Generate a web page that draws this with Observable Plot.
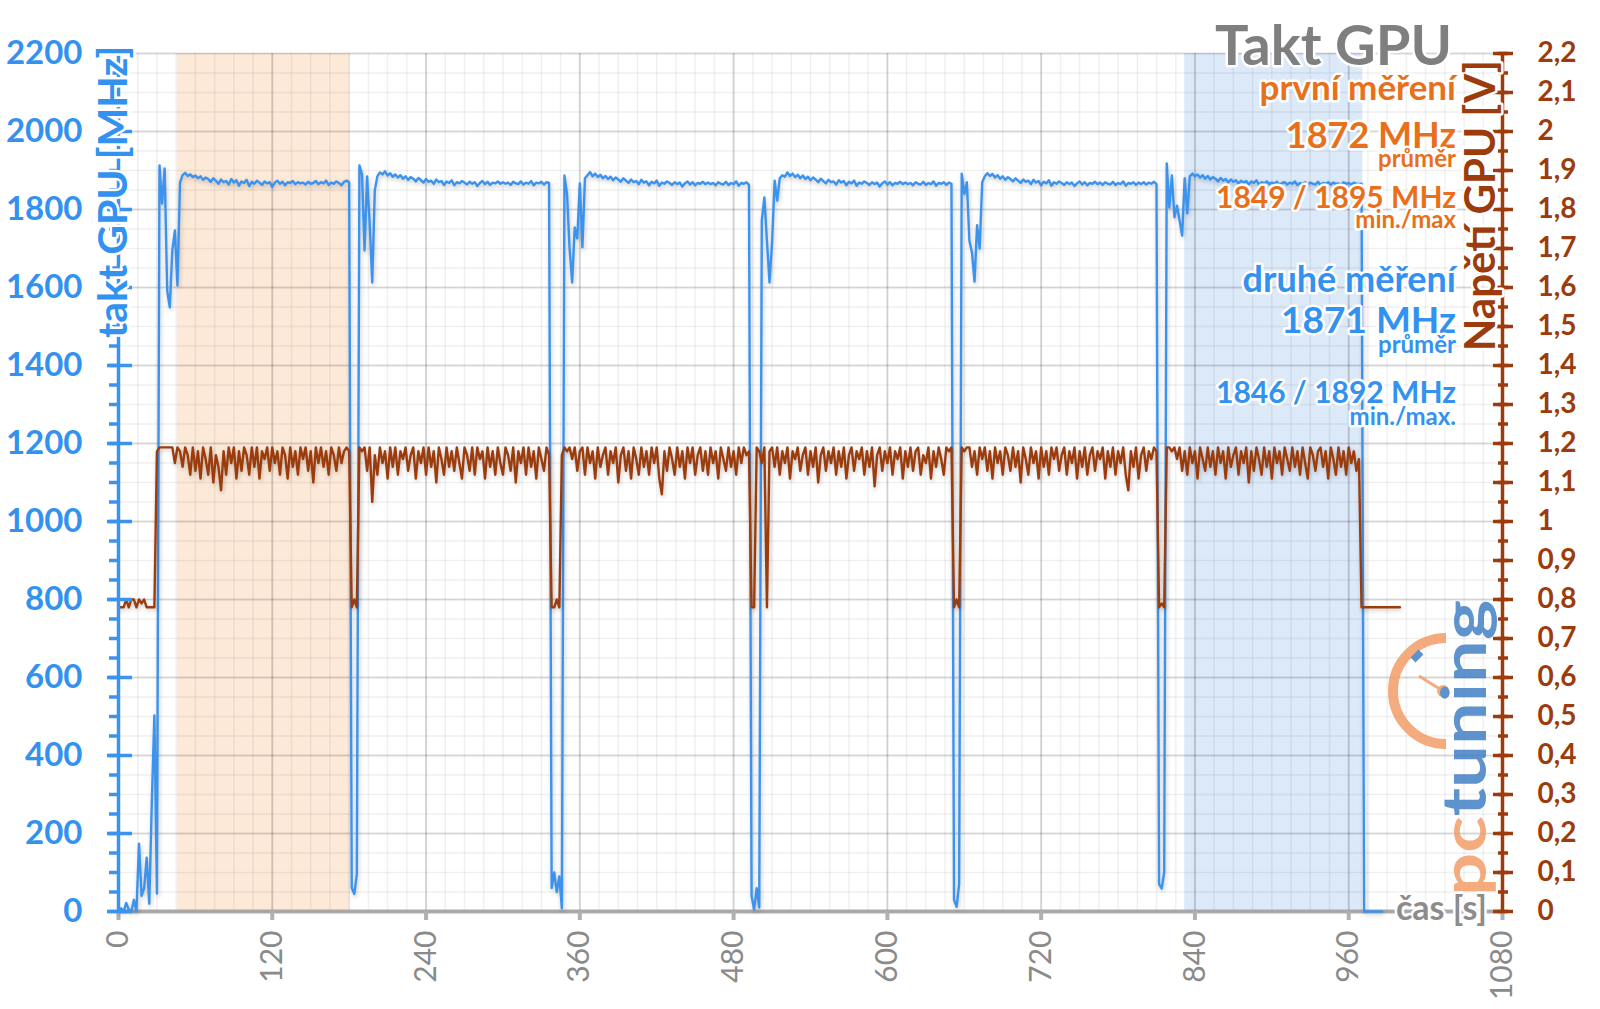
<!DOCTYPE html>
<html><head><meta charset="utf-8">
<script src="https://cdn.jsdelivr.net/npm/d3@7"></script>
<script src="https://cdn.jsdelivr.net/npm/@observablehq/plot@0.6"></script>
<style>
body{margin:0;background:#fff}
#wrap{position:relative;width:1600px;height:1009px;overflow:hidden}
#wrap > svg{position:absolute;left:0;top:0}
</style>
</head><body><div id="wrap"></div>
<script>
// ---- data ----
const sampleStep = 2; // seconds between samples
const clockMHz = [
0,8,0,22,5,0,30,0,174,40,
60,138,20,280,503,46,1913,1815,1905,1592,
1549,1695,1746,1605,1869,1888,1894,1886,1890,1883,
1887,1880,1885,1876,1882,1878,1871,1880,1874,1866,
1877,1870,1873,1864,1878,1869,1875,1861,1872,1868,
1876,1860,1871,1866,1874,1869,1863,1872,1867,1870,
1858,1869,1874,1866,1871,1862,1870,1868,1873,1865,
1870,1867,1869,1864,1871,1866,1868,1873,1865,1870,
1867,1874,1863,1869,1866,1872,1868,1862,1871,1874,
1870,60,45,95,1913,1890,1695,1885,1764,1613,
1849,1885,1895,1890,1898,1887,1893,1884,1890,1882,
1888,1879,1885,1876,1883,1879,1872,1881,1875,1869,
1878,1871,1874,1866,1877,1870,1873,1863,1872,1868,
1875,1862,1870,1867,1873,1869,1864,1871,1866,1870,
1860,1868,1873,1865,1871,1863,1869,1867,1872,1866,
1870,1866,1869,1863,1871,1867,1865,1872,1864,1869,
1866,1873,1862,1869,1867,1871,1864,1870,1868,60,
100,50,90,8,1887,1840,1700,1613,1754,1726,
1867,1703,1880,1888,1896,1885,1892,1883,1889,1880,
1886,1878,1884,1875,1882,1877,1871,1880,1874,1868,
1877,1870,1873,1865,1876,1869,1872,1862,1871,1867,
1874,1861,1869,1866,1872,1868,1863,1870,1865,1869,
1859,1867,1872,1864,1870,1862,1868,1866,1871,1865,
1869,1865,1868,1862,1870,1866,1864,1871,1863,1868,
1865,1872,1861,1868,1866,1870,1863,40,5,60,
10,1772,1831,1720,1613,1713,1874,1823,1880,1888,
1884,1895,1886,1892,1883,1889,1880,1887,1878,1884,
1875,1882,1877,1870,1879,1873,1867,1876,1870,1872,
1864,1875,1869,1873,1862,1871,1867,1874,1861,1869,
1866,1872,1868,1863,1870,1865,1869,1859,1867,1872,
1864,1870,1862,1868,1866,1871,1865,1869,1865,1868,
1862,1870,1866,1864,1871,1863,1868,1865,1872,1861,
1868,1866,1870,1863,1869,1866,30,12,70,1892,
1840,1870,1720,1690,1615,1760,1700,1870,1885,1893,
1886,1891,1882,1888,1879,1885,1876,1883,1878,1872,
1880,1874,1868,1877,1871,1874,1865,1876,1869,1873,
1862,1871,1867,1875,1861,1870,1866,1872,1868,1863,
1870,1865,1869,1860,1867,1872,1864,1870,1862,1868,
1866,1871,1865,1869,1863,1870,1866,1864,1871,1863,
1868,1865,1872,1861,1868,1866,1870,1863,1869,1865,
1870,1864,1869,1866,1871,1865,70,59,100,1918,
1805,1887,1780,1810,1772,1733,1880,1790,1885,1892,
1885,1890,1882,1888,1879,1886,1877,1883,1879,1872,
1881,1874,1878,1869,1877,1871,1875,1866,1874,1869,
1873,1864,1872,1868,1875,1863,1870,1867,1872,1865,
1869,1866,1871,1862,1868,1870,1864,1869,1866,1872,
1863,1868,1865,1870,1862,1869,1866,1864,1871,1863,
1868,1866,1870,1864,1869,1865,1867,1863,1870,1866,
1868,1864,1869,1866,1865,1866,0,0,0,0,
0,0,0,0
];
const voltageV = [
.78,.78,.78,.80,.78,.80,.80,.78,.80,.79,
.80,.78,.78,.78,.78,1.18,1.19,1.19,1.19,1.19,
1.19,1.19,1.15,1.19,1.18,1.14,1.19,1.17,1.12,1.19,
1.13,1.18,1.11,1.19,1.16,1.12,1.19,1.10,1.17,1.14,
1.08,1.18,1.12,1.19,1.15,1.19,1.11,1.18,1.13,1.19,
1.17,1.12,1.19,1.14,1.19,1.11,1.18,1.16,1.19,1.13,
1.19,1.15,1.18,1.12,1.19,1.17,1.11,1.19,1.14,1.18,
1.12,1.19,1.16,1.19,1.13,1.18,1.10,1.19,1.15,1.19,
1.14,1.18,1.12,1.19,1.17,1.13,1.19,1.15,1.18,1.19,
1.18,.78,.80,.78,1.19,1.18,1.19,1.13,1.19,1.05,
1.17,1.12,1.19,1.15,1.18,1.11,1.19,1.14,1.19,1.12,
1.18,1.16,1.19,1.13,1.17,1.19,1.11,1.18,1.15,1.19,
1.12,1.19,1.14,1.18,1.10,1.19,1.16,1.12,1.19,1.14,
1.18,1.13,1.19,1.15,1.11,1.19,1.17,1.13,1.19,1.12,
1.19,1.16,1.18,1.11,1.19,1.14,1.18,1.12,1.19,1.15,
1.12,1.19,1.17,1.13,1.19,1.10,1.18,1.15,1.19,1.12,
1.19,1.14,1.18,1.11,1.19,1.16,1.13,1.19,1.17,.78,
.78,.80,.78,1.17,1.19,1.18,1.19,1.16,1.19,1.13,
1.18,1.19,1.12,1.19,1.15,1.18,1.11,1.19,1.14,1.17,
1.19,1.12,1.18,1.15,1.19,1.10,1.17,1.19,1.13,1.18,
1.11,1.19,1.16,1.12,1.19,1.14,1.18,1.12,1.19,1.15,
1.19,1.11,1.07,1.18,1.13,1.19,1.16,1.12,1.19,1.14,
1.18,1.11,1.19,1.15,1.19,1.12,1.17,1.19,1.13,1.18,
1.12,1.19,1.15,1.18,1.11,1.19,1.16,1.13,1.19,1.14,
1.18,1.12,1.19,1.15,1.19,1.17,1.18,.78,.78,1.19,
1.18,1.15,1.19,.78,1.18,1.19,1.14,1.19,1.12,1.18,
1.15,1.19,1.11,1.18,1.16,1.19,1.13,1.17,1.19,1.12,
1.18,1.14,1.19,1.10,1.17,1.19,1.13,1.18,1.15,1.19,
1.12,1.18,1.14,1.19,1.11,1.17,1.19,1.13,1.18,1.16,
1.19,1.12,1.18,1.14,1.19,1.09,1.17,1.19,1.13,1.18,
1.15,1.19,1.12,1.18,1.16,1.19,1.11,1.18,1.14,1.19,
1.13,1.18,1.19,1.12,1.17,1.15,1.19,1.11,1.18,1.14,
1.19,1.16,1.12,1.19,1.18,1.19,.78,.80,.78,1.19,
1.18,1.19,1.19,1.14,1.18,1.12,1.19,1.16,1.19,1.13,
1.18,1.11,1.19,1.15,1.18,1.12,1.19,1.17,1.13,1.19,
1.14,1.18,1.10,1.19,1.16,1.12,1.19,1.15,1.18,1.11,
1.19,1.14,1.18,1.12,1.19,1.16,1.19,1.13,1.17,1.19,
1.12,1.18,1.15,1.19,1.11,1.18,1.14,1.19,1.12,1.17,
1.19,1.13,1.18,1.16,1.19,1.11,1.18,1.14,1.19,1.12,
1.18,1.15,1.19,1.12,1.08,1.18,1.14,1.19,1.11,1.17,
1.19,1.13,1.18,1.16,1.19,1.18,.78,.79,.78,1.19,
1.19,1.18,1.19,1.16,1.19,1.13,1.18,1.12,1.19,1.15,
1.18,1.11,1.19,1.16,1.13,1.19,1.14,1.18,1.12,1.19,
1.15,1.18,1.11,1.19,1.14,1.17,1.19,1.12,1.18,1.15,
1.19,1.10,1.18,1.13,1.19,1.16,1.12,1.19,1.14,1.18,
1.11,1.19,1.15,1.18,1.12,1.19,1.16,1.13,1.19,1.14,
1.18,1.12,1.19,1.15,1.11,1.19,1.17,1.13,1.18,1.19,
1.14,1.18,1.11,1.19,1.16,1.12,1.19,1.14,1.18,1.12,
1.19,1.15,1.18,1.13,1.16,.78,.78,.78,.78,.78,
.78,.78,.78,.78,.78,.78,.78,.78,.78,.78,
.78
];
const bandStart = [46, 832];   // s
const bandEnd   = [181, 971];  // s
const bandName  = ["první měření", "druhé měření"];
const clockTicks = [0,200,400,600,800,1000,1200,1400,1600,1800,2000,2200];
const voltTicks  = [0,0.1,0.2,0.3,0.4,0.5,0.6,0.7,0.8,0.9,1,1.1,1.2,1.3,1.4,1.5,1.6,1.7,1.8,1.9,2,2.1,2.2];
const timeTicks  = [0,120,240,360,480,600,720,840,960,1080];
const infoFirst  = ["první měření", "1872 MHz", "průměr", "1849 / 1895 MHz", "min./max"];
const infoSecond = ["druhé měření", "1871 MHz", "průměr", "1846 / 1892 MHz", "min./max."];

// ---- build ----
const BLUE = "#3b93ee", BLUE_T = "#3392ef", BROWN = "#9c3c0c", ORANGE = "#e8701a", GRAY = "#7f7f7f";
const clockData = clockMHz.map((v, i) => ({t: i * sampleStep, v}));
const voltData = voltageV.map((v, i) => ({t: i * sampleStep, v: v * 1000})); // V -> shared axis (x1000)
const bands = bandStart.map((s, i) => ({s, e: bandEnd[i], name: bandName[i]}));
const minor = (a, b, s) => d3.range(a, b + 1e-9, s);

const chart = Plot.plot({
  width: 1600, height: 1009,
  marginLeft: 118, marginRight: 98, marginTop: 53, marginBottom: 98,
  x: {domain: [0, 1080]},
  y: {domain: [0, 2200]},
  style: {background: "transparent", fontFamily: "Lato, 'Open Sans', sans-serif"},
  marks: [
    Plot.rect(bands, {x1: "s", x2: "e", fill: (d, i) => i === 0 ? "#fde9d8" : "#dce9f9"}),
    Plot.gridX(minor(0, 1080, 15), {stroke: "#000", strokeOpacity: 0.06, strokeWidth: 1.5}),
    Plot.gridY(minor(0, 2200, 50), {stroke: "#000", strokeOpacity: 0.06, strokeWidth: 1.5}),
    Plot.gridX(timeTicks, {stroke: "#000", strokeOpacity: 0.13, strokeWidth: 2}),
    Plot.gridY(clockTicks, {stroke: "#000", strokeOpacity: 0.11, strokeWidth: 2}),
    Plot.ruleY([0], {stroke: "#9a9a9a", strokeOpacity: 0.8, strokeWidth: 4}),
    Plot.axisX(timeTicks, {tickRotate: -90, tickSize: 9, tickPadding: 10, fontSize: 30, fill: "#8a8a8a", stroke: "#b0b0b0", strokeWidth: 4, label: null, tickFormat: d => String(d)}),
    Plot.lineY(clockData, {x: "t", y: "v", stroke: BLUE, strokeWidth: 2.4, imageFilter: "drop-shadow(1px 2px 2px rgba(0,0,0,0.22))"}),
    Plot.lineY(voltData, {x: "t", y: "v", stroke: BROWN, strokeWidth: 2.4, imageFilter: "drop-shadow(1px 2px 2px rgba(0,0,0,0.22))"}),
    // left axis
    Plot.ruleX([0], {stroke: BLUE, strokeWidth: 3.5}),
    Plot.axisY(minor(0, 2200, 50), {anchor: "left", tickSize: 9, strokeWidth: 3.5, stroke: BLUE, fill: "none", label: null}),
    Plot.axisY(clockTicks, {anchor: "left", tickSize: 25, dx: 14, strokeWidth: 3.5, stroke: BLUE, fill: "none", label: null}),
    Plot.axisY(clockTicks, {anchor: "left", stroke: "none", tickSize: 0, tickPadding: 36, fontSize: 33, fontWeight: "bold", fill: BLUE_T, label: null, tickFormat: d => String(d)}),
    // right axis (voltage, V x 1000 on shared scale)
    Plot.ruleX([1080], {stroke: BROWN, strokeWidth: 3.5}),
    Plot.axisY(minor(0, 2200, 50), {anchor: "right", tickSize: 10, dx: -5, strokeWidth: 3.5, stroke: BROWN, fill: "none", label: null}),
    Plot.axisY(voltTicks.map(v => Math.round(v * 1000)), {anchor: "right", tickSize: 20, dx: -10, strokeWidth: 3.5, stroke: BROWN, fill: "none", label: null}),
    Plot.axisY(voltTicks.map(v => Math.round(v * 1000)), {anchor: "right", stroke: "none", tickSize: 0, tickPadding: 35, fontSize: 28, fontWeight: "bold", fill: BROWN, label: null, tickFormat: d => d3.format(".1~f")(d / 1000).replace(".", ",")})
  ]
});

const wrap = document.getElementById("wrap");
wrap.appendChild(chart);

// ---- overlay: titles, axis titles, annotations, logo ----
const ov = d3.select(wrap).append("svg").attr("width", 1600).attr("height", 1009)
  .style("font-family", "Lato, 'Open Sans', sans-serif");

function txt(s, x, y, size, color, anchor = "end", rot = 0, weight = 700) {
  return ov.append("text").text(s)
    .attr("transform", `translate(${x},${y}) rotate(${rot})`)
    .attr("text-anchor", anchor).attr("font-size", size).attr("font-weight", weight)
    .attr("fill", color).attr("stroke", "white").attr("stroke-width", 5)
    .attr("stroke-linejoin", "round").attr("paint-order", "stroke");
}

// logo
const logo = ov.append("g").attr("opacity", 0.82);
logo.append("path").attr("d", "M1446,638 A53,53 0 0 0 1446,744").attr("fill", "none").attr("stroke", "#f29a62").attr("stroke-width", 10);
logo.append("line").attr("x1", 1443).attr("y1", 691).attr("x2", 1419).attr("y2", 676).attr("stroke", "#f29a62").attr("stroke-width", 3);
logo.append("circle").attr("cx", 1443).attr("cy", 691).attr("r", 6).attr("fill", "#f29a62");
logo.append("line").attr("x1", 1413).attr("y1", 660).attr("x2", 1421).attr("y2", 652).attr("stroke", "#3b7cc4").attr("stroke-width", 7);
const lt = logo.append("text").attr("transform", "translate(1486,896) rotate(-90)")
  .attr("font-size", 62).attr("font-weight", 700).attr("textLength", 296).attr("lengthAdjust", "spacingAndGlyphs");
lt.append("tspan").attr("fill", "#f29a62").text("pc");
lt.append("tspan").attr("fill", "#3b7cc4").text("tuning");

txt("takt GPU [MHz]", 127, 338, 41, BLUE_T, "start", -90);
txt("Napětí GPU [V]", 1495, 351, 42, BROWN, "start", -90);
txt("čas [s]", 1487, 920, 34, "#8c8c8c");

txt("Takt GPU", 1452, 65, 56, GRAY);
const sizes = [35, 36, 24, 30, 24];
const sizes2 = [36, 37, 24, 30, 24];
const yFirst = [100, 148, 167, 208, 228];
const ySecond = [292, 333, 353, 403, 425];
infoFirst.forEach((s, i) => txt(s, 1456, yFirst[i], sizes[i], ORANGE));
infoSecond.forEach((s, i) => txt(s, 1456, ySecond[i], sizes2[i], BLUE_T));
</script>
</body></html>
